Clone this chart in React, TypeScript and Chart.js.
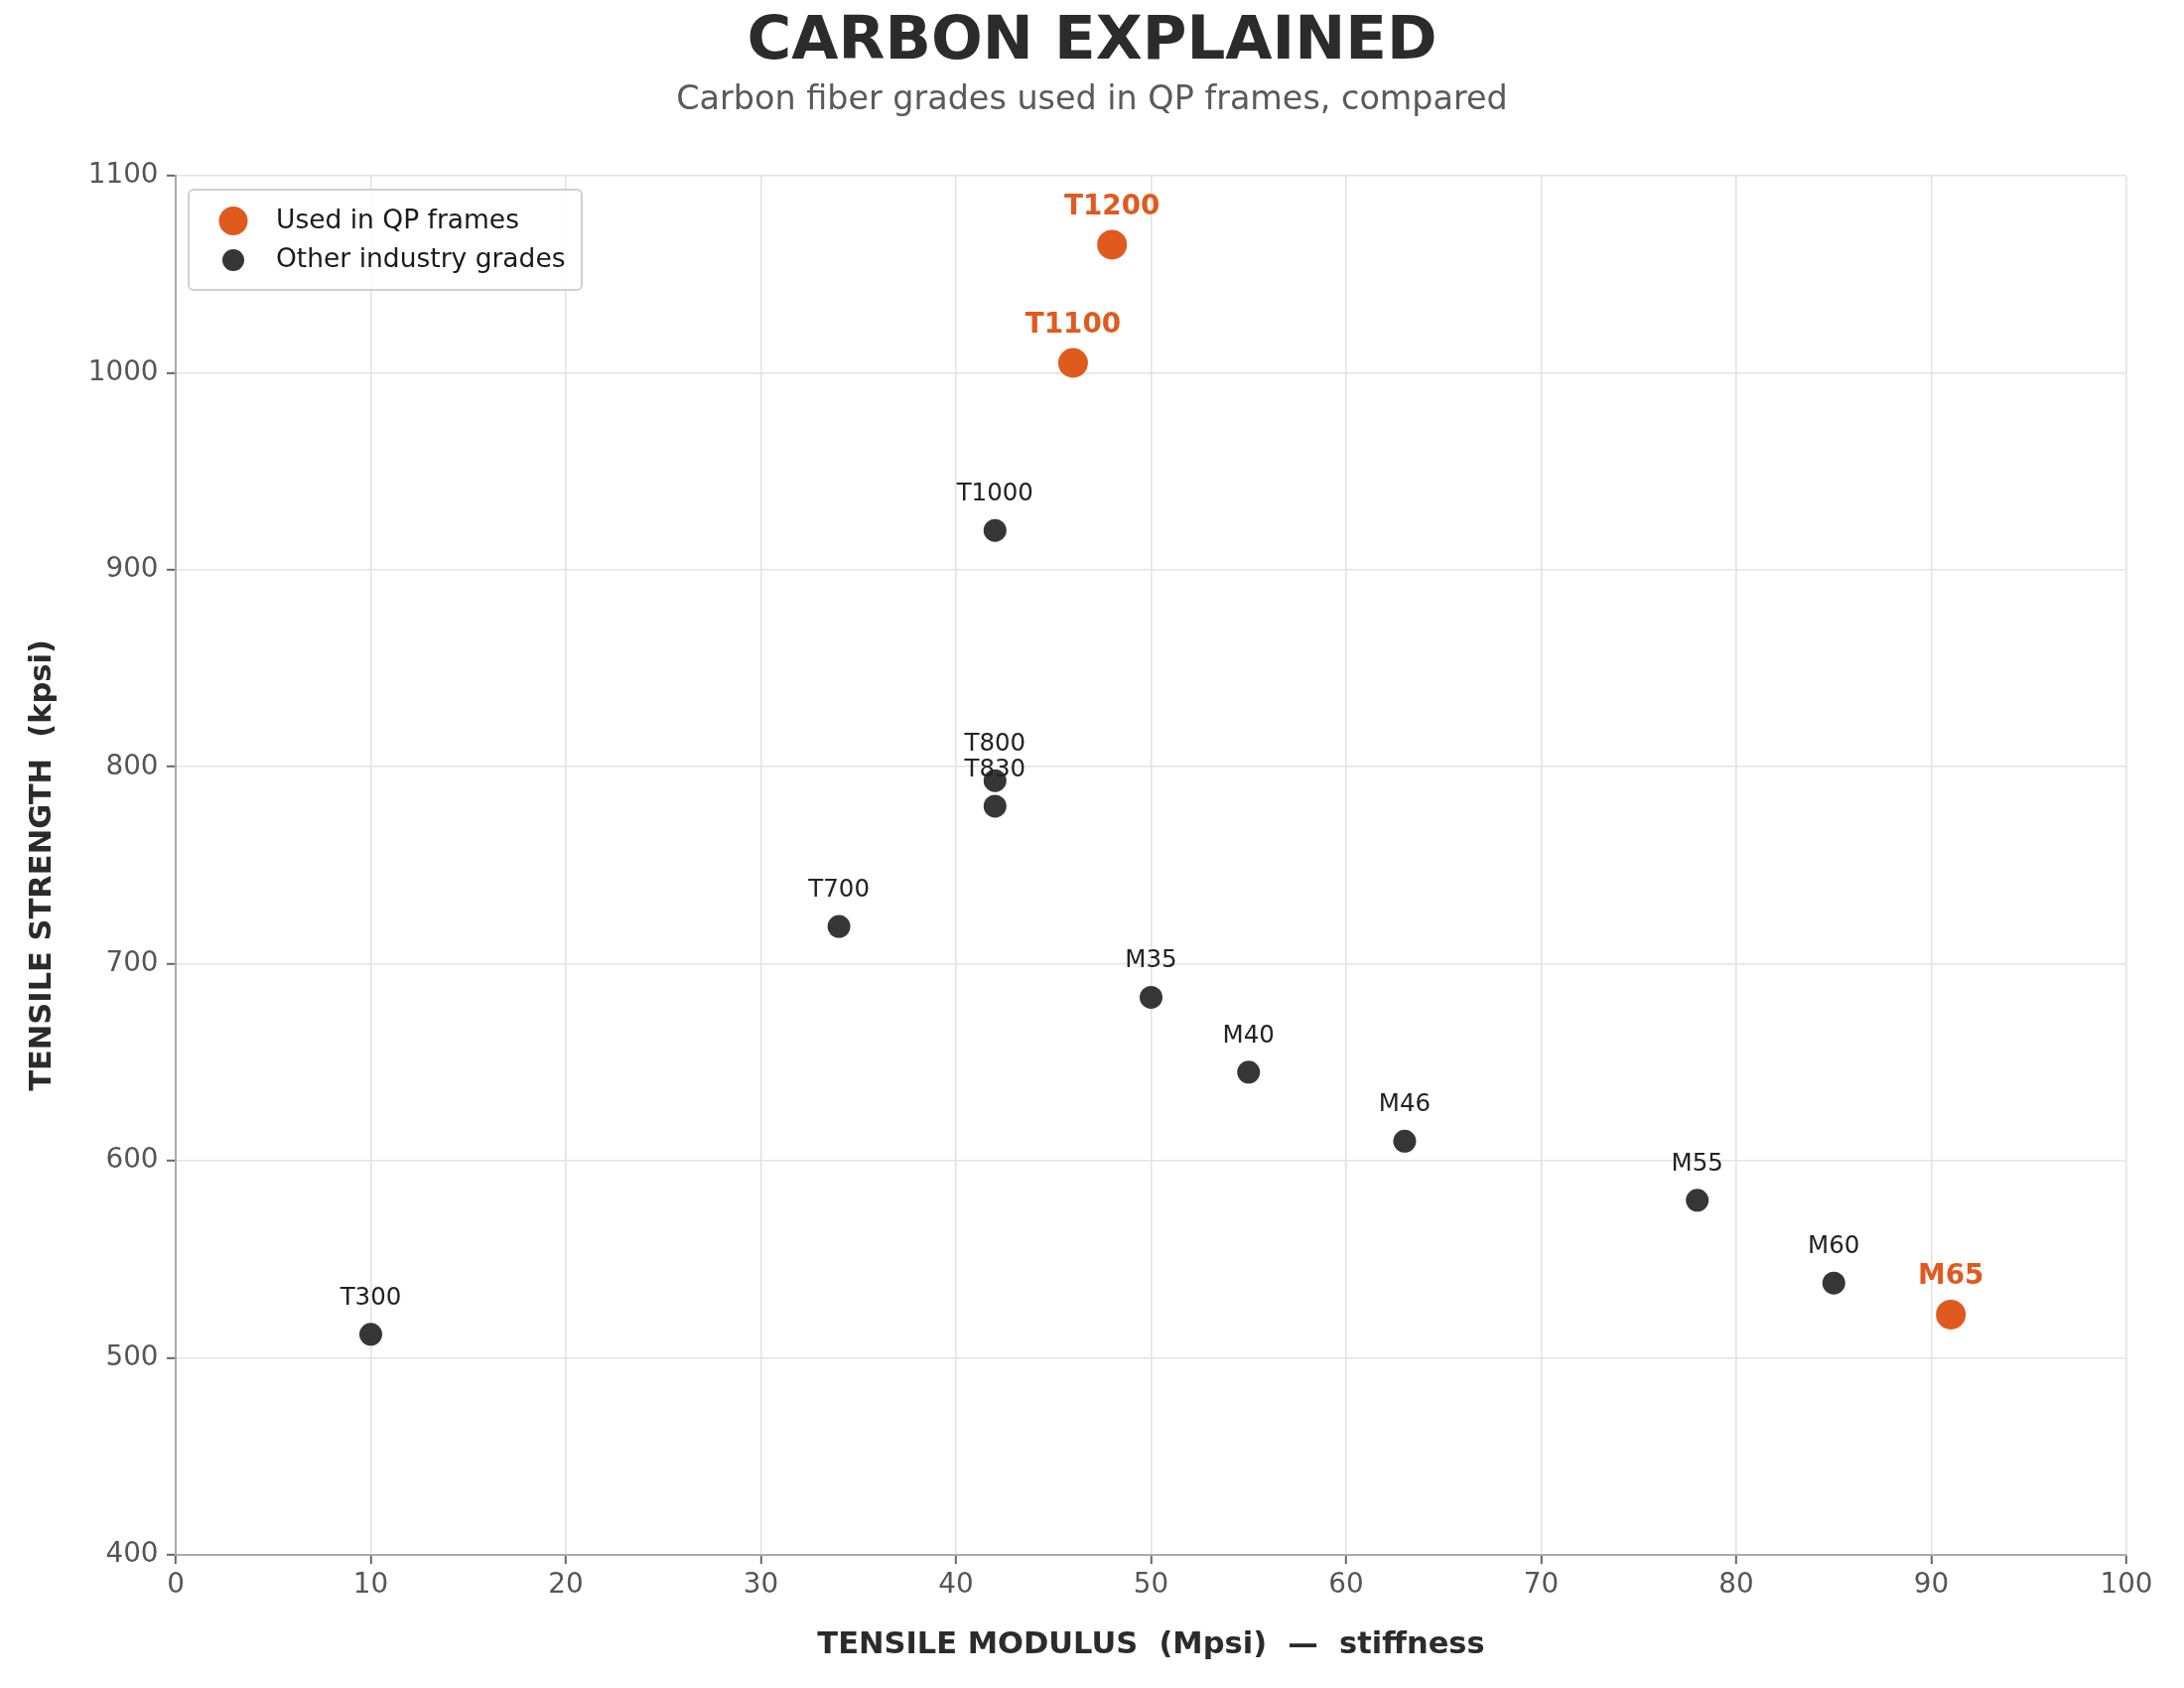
import { useEffect, useRef } from "react";
import { Chart, registerables } from "chart.js";

Chart.register(...registerables);

// grades used in QP frames
const qpGrades = ["T1200", "T1100", "M65"];
const qpModulus = [48, 46, 91];
const qpStrength = [1065, 1005, 522];

// other industry grades
const otherGrades = ["T300", "T700", "T800", "T830", "T1000", "M35", "M40", "M46", "M55", "M60"];
const otherModulus = [10, 34, 42, 42, 42, 50, 55, 63, 78, 85];
const otherStrength = [512, 719, 793, 780, 920, 683, 645, 610, 580, 538];

const xRange = [0, 100];
const yRange = [400, 1100];
const seriesNames = ["Used in QP frames", "Other industry grades"];
const titleText = "CARBON EXPLAINED";
const subtitleText = "Carbon fiber grades used in QP frames, compared";

const ORANGE = "#E05A1E";
const DARK = "#363636";
const FONT = "DejaVu Sans";

// title and subtitle centred on the whole canvas
const headings = {
  id: "headings",
  afterDraw(chart: Chart) {
    const ctx = chart.ctx;
    const cx = chart.width / 2;
    ctx.save();
    ctx.textAlign = "center";
    ctx.textBaseline = "alphabetic";
    ctx.fillStyle = "#2b2b2b";
    ctx.font = `bold 61px "${FONT}"`;
    ctx.fillText(titleText, cx, 59);
    ctx.fillStyle = "#5a5a5a";
    ctx.font = `33.4px "${FONT}"`;
    ctx.fillText(subtitleText, cx, 110);
    ctx.restore();
  },
};

const pointLabels = {
  id: "pointLabels",
  afterDatasetsDraw(chart: Chart) {
    const ctx = chart.ctx;
    chart.data.datasets.forEach((_, i) => {
      const meta = chart.getDatasetMeta(i);
      const names = i === 0 ? qpGrades : otherGrades;
      ctx.save();
      ctx.font = i === 0 ? `bold 27.8px "${FONT}"` : `24.5px "${FONT}"`;
      ctx.fillStyle = i === 0 ? ORANGE : "#222222";
      ctx.textAlign = "center";
      ctx.textBaseline = "alphabetic";
      meta.data.forEach((pt, j) => {
        ctx.fillText(names[j], pt.x, pt.y - (i === 0 ? 30.5 : 30));
      });
      ctx.restore();
    });
  },
};

const boxLegend = {
  id: "boxLegend",
  afterDraw(chart: Chart) {
    const ctx = chart.ctx;
    const left = chart.chartArea.left + 13;
    const top = chart.chartArea.top + 14;
    ctx.save();
    ctx.beginPath();
    ctx.roundRect(left, top, 396, 101, 5);
    ctx.fillStyle = "rgba(255,255,255,0.85)";
    ctx.fill();
    ctx.lineWidth = 2;
    ctx.strokeStyle = "#d0d0d0";
    ctx.stroke();
    const rows = [
      { y: top + 31.5, r: 14.5, color: ORANGE },
      { y: top + 71, r: 11, color: DARK },
    ];
    ctx.font = `26.5px "${FONT}"`;
    ctx.textAlign = "left";
    ctx.textBaseline = "alphabetic";
    rows.forEach((row, i) => {
      ctx.beginPath();
      ctx.arc(left + 45, row.y, row.r, 0, Math.PI * 2);
      ctx.fillStyle = row.color;
      ctx.fill();
      ctx.fillStyle = "#1a1a1a";
      ctx.fillText(seriesNames[i], left + 88, row.y + 7);
    });
    ctx.restore();
  },
};

const App = () => {
  const canvasRef = useRef<HTMLCanvasElement>(null);

  useEffect(() => {
    document.body.style.margin = "0";
    if (!canvasRef.current) return;
    Chart.defaults.font.family = FONT;

    const chart = new Chart(canvasRef.current, {
      type: "scatter",
      data: {
        datasets: [
          {
            label: seriesNames[0],
            data: qpModulus.map((x, i) => ({ x, y: qpStrength[i] })),
            backgroundColor: ORANGE,
            borderWidth: 0,
            pointRadius: 15,
            pointHoverRadius: 15,
          },
          {
            label: seriesNames[1],
            data: otherModulus.map((x, i) => ({ x, y: otherStrength[i] })),
            backgroundColor: DARK,
            borderWidth: 0,
            pointRadius: 11.5,
            pointHoverRadius: 11.5,
          },
        ],
      },
      options: {
        animation: false,
        responsive: false,
        devicePixelRatio: 1,
        layout: { padding: { left: 0, right: 58, top: 177, bottom: 0 } },
        plugins: {
          legend: { display: false },
          tooltip: { enabled: false },
        },
        scales: {
          x: {
            type: "linear",
            min: xRange[0],
            max: xRange[1],
            afterFit(scale) {
              scale.height = 134;
            },
            ticks: {
              stepSize: 10,
              color: "#555555",
              font: { size: 27.8 },
              padding: 5.5,
              callback: (v) => String(v),
            },
            grid: { color: "#e3e3e3", lineWidth: 1.6, tickColor: "#666666", tickWidth: 2, tickLength: 9 },
            border: { color: "#aaaaaa", width: 2 },
            title: {
              display: true,
              text: "TENSILE MODULUS  (Mpsi)  —  stiffness",
              color: "#2b2b2b",
              font: { size: 30.5, weight: "bold", lineHeight: 1 },
              padding: { top: 0, bottom: 27.5 },
            },
          },
          y: {
            type: "linear",
            min: yRange[0],
            max: yRange[1],
            afterFit(scale) {
              scale.width = 177;
            },
            ticks: {
              stepSize: 100,
              color: "#555555",
              font: { size: 27.8 },
              padding: 8.5,
              callback: (v) => String(v),
            },
            grid: { color: "#e3e3e3", lineWidth: 1.6, tickColor: "#666666", tickWidth: 2, tickLength: 9 },
            border: { color: "#aaaaaa", width: 2 },
            title: {
              display: true,
              text: "TENSILE STRENGTH  (kpsi)",
              color: "#2b2b2b",
              font: { size: 30.5, weight: "bold", lineHeight: 1 },
              padding: { top: 28, bottom: 0 },
            },
          },
        },
      },
      plugins: [pointLabels, boxLegend, headings],
    });

    return () => {
      chart.destroy();
    };
  }, []);

  return (
    <div style={{ width: 2200, height: 1700, background: "#ffffff" }}>
      <canvas ref={canvasRef} width={2200} height={1700} />
    </div>
  );
};

export default App;
